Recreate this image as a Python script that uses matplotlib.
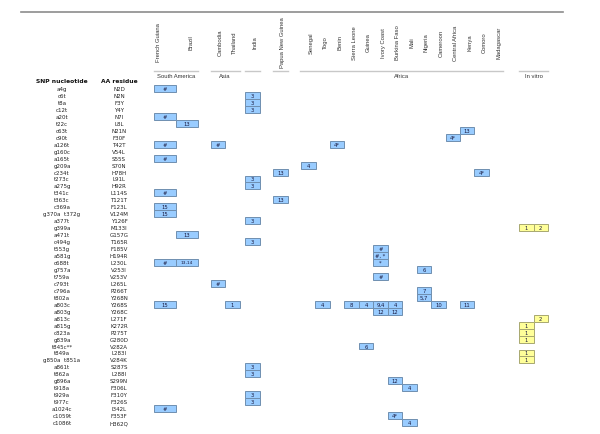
import matplotlib
matplotlib.use("Agg")
import matplotlib.pyplot as plt
from matplotlib.patches import Rectangle

# rows of the table
snp = ["a4g", "c6t", "t8a", "c12t", "a20t", "t22c", "c63t", "c90t", "a126t", "g160c",
       "a165t", "g209a", "c234t", "t273c", "a275g", "t341c", "t363c", "c369a",
       "g370a  t372g", "a377t", "g399a", "a471t", "c494g", "t553g", "a581g", "c688t",
       "g757a", "t759a", "c793t", "c796a", "t802a", "a803c", "a803g", "a813c", "a815g",
       "c823a", "g839a", "t845c**", "t849a", "g850a  t851a", "a861t", "t862a", "g896a",
       "t918a", "t929a", "t977c", "a1024c", "c1059t", "c1086t"]
aa = ["N2D", "N2N", "F3Y", "Y4Y", "N7I", "L8L", "N21N", "F30F", "T42T", "V54L",
      "S55S", "S70N", "H78H", "L91L", "H92R", "L114S", "T121T", "F123L", "V124M",
      "Y126F", "M133I", "G157G", "T165R", "F185V", "H194R", "L230L", "V253I", "V253V",
      "L265L", "P266T", "Y268N", "Y268S", "Y268C", "L271F", "K272R", "P275T", "G280D",
      "V282A", "L283I", "V284K", "S287S", "L288I", "S299N", "F306L", "F310Y", "F326S",
      "I342L", "F353F", "H362Q"]

# columns
countries = ["French Guiana", "Brazil", "Cambodia", "Thailand", "India", "Papua New Guinea",
             "Senegal", "Togo", "Benin", "Sierra Leone", "Guinea", "Ivory Coast",
             "Burkina Faso", "Mali", "Nigeria", "Cameroon", "Central Africa", "Kenya",
             "Comoro", "Madagascar", "in vitro 1", "in vitro 2"]
regions = ["South America", "Asia", "", "", "Africa", "In vitro"]
region_cols = [(0, 1), (2, 3), (4, 4), (5, 5), (6, 19), (20, 21)]

# filled cells: (row name, column, reference label)
cell_snp = ["a4g", "c6t", "t8a", "c12t", "a20t", "t22c", "c63t", "c90t",
            "a126t", "a126t", "a126t", "a165t", "g209a", "c234t", "c234t",
            "t273c", "a275g", "t341c", "t363c", "c369a", "g370a  t372g", "a377t",
            "g399a", "g399a", "a471t", "c494g", "t553g", "a581g",
            "c688t", "c688t", "c688t", "g757a", "t759a", "c793t", "c796a", "t802a",
            "a803c", "a803c", "a803c", "a803c", "a803c", "a803c", "a803c", "a803c", "a803c",
            "a803g", "a803g", "a813c", "a815g", "c823a", "g839a", "t845c**", "t849a",
            "g850a  t851a", "a861t", "t862a", "g896a", "t918a", "t929a", "t977c",
            "a1024c", "c1059t", "c1086t"]
cell_col = ["French Guiana", "India", "India", "India", "French Guiana", "Brazil", "Kenya",
            "Central Africa", "French Guiana", "Cambodia", "Benin", "French Guiana",
            "Senegal", "Papua New Guinea", "Comoro", "India", "India", "French Guiana",
            "Papua New Guinea", "French Guiana", "French Guiana", "India",
            "in vitro 1", "in vitro 2", "Brazil", "India", "Ivory Coast", "Ivory Coast",
            "French Guiana", "Brazil", "Ivory Coast", "Nigeria", "Ivory Coast", "Cambodia",
            "Nigeria", "Nigeria",
            "French Guiana", "Thailand", "Togo", "Sierra Leone", "Guinea", "Ivory Coast",
            "Burkina Faso", "Cameroon", "Kenya",
            "Ivory Coast", "Burkina Faso", "in vitro 2", "in vitro 1", "in vitro 1",
            "in vitro 1", "Guinea", "in vitro 1", "in vitro 1", "India", "India",
            "Burkina Faso", "Mali", "India", "India", "French Guiana", "Burkina Faso", "Mali"]
cell_text = ["#", "3", "3", "3", "#", "13", "13", "4*", "#", "#", "4*", "#", "4", "13", "4*",
             "3", "3", "#", "13", "15", "15", "3", "1", "2", "13", "3", "#", "#, *",
             "#", "13,14", "*", "6", "#", "#", "7", "5,7",
             "15", "1", "4", "8", "4", "9,4", "4", "10", "11",
             "12", "12", "2", "1", "1", "1", "6", "1", "1", "3", "3",
             "12", "4", "3", "3", "#", "4*", "4"]

# layout (pixels)
col_left = [154, 176, 210.5, 225, 245, 273] + [301 + 14.45 * i for i in range(14)] + [519, 533.5]
col_w = [22, 21.5] + [14.5] * 20
head_dx = [-6, 4] + [2.5] * 18
y0, dy = 89.5, 6.96

fig = plt.figure(figsize=(6, 4.35), dpi=100)
ax = fig.add_axes([0, 0, 1, 1])
ax.set_xlim(0, 600)
ax.set_ylim(435, 0)
ax.axis("off")

ax.plot([21, 563], [12.7, 12.7], color="#8c8c8c", lw=1.2)

# column headers
for i, name in enumerate(countries[:20]):
    x = col_left[i] + col_w[i] / 2 + head_dx[i]
    ax.text(x, 43, name, rotation=90, ha="center", va="center",
            fontsize=4.2, family="Liberation Sans", color="#333333")

# region lines and labels
for name, (a, b) in zip(regions, region_cols):
    xa, xb = col_left[a], col_left[b] + col_w[b]
    if a == 6:
        xa -= 1
    ax.plot([xa, xb], [72, 72], color="#c8c8c8", lw=1.0)
    if name:
        ax.text((xa + xb) / 2, 76.5, name, ha="center", va="center",
                fontsize=4.2, family="Liberation Sans", color="#333333")

# row headers
ax.text(62, 81.5, "SNP nucleotide", ha="center", va="center", fontsize=4.3,
        fontweight="bold", color="#111111")
ax.text(119, 81.5, "AA residue", ha="center", va="center", fontsize=4.3,
        fontweight="bold", color="#111111")
for i, (s, r) in enumerate(zip(snp, aa)):
    y = y0 + dy * i
    ax.text(62, y, s, ha="center", va="center", fontsize=4.0, color="#222222")
    ax.text(119, y, r, ha="center", va="center", fontsize=4.0, color="#222222")

# cells
for s, c, t in zip(cell_snp, cell_col, cell_text):
    i = snp.index(s)
    j = countries.index(c)
    y = y0 + dy * i
    yellow = c.startswith("in vitro")
    face = "#ffff99" if yellow else "#99ccff"
    edge = "#a8a870" if yellow else "#6f8fb0"
    ax.add_patch(Rectangle((col_left[j], y - dy / 2), col_w[j], dy,
                           facecolor=face, edgecolor=edge, lw=0.7))
    ax.text(col_left[j] + col_w[j] / 2, y, t, ha="center", va="center",
            fontsize=3.8 if len(t) < 5 else 3.2, color="#1a1a40")

fig.savefig("out.png", dpi=100)
